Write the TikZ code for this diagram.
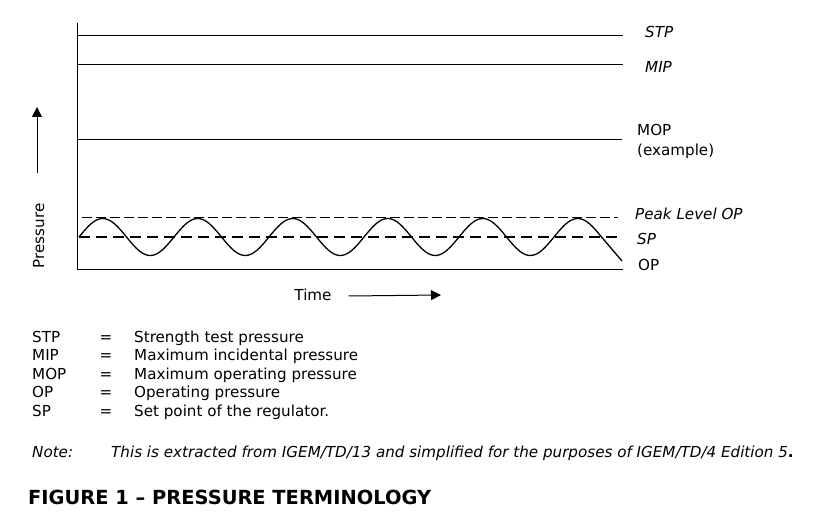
\documentclass[tikz,border=0pt]{standalone}
\usepackage{fontspec}
\setmainfont{DejaVu Sans}
\usetikzlibrary{positioning, arrows.meta}

\newcommand{\lblfont}{\fontsize{15.2}{18}\selectfont}

\begin{document}
\begin{tikzpicture}[x=1bp, y=-1bp, font=\lblfont,
    every node/.style={inner sep=0pt, text height=12bp, text depth=2bp},
    level/.style={line width=1bp},
    lbl/.style={anchor=west},
    ital/.style={anchor=west, font=\lblfont\itshape},
    peakline/.style={line width=0.8bp, dash pattern=on 9.5bp off 4.5bp},
    spline/.style={line width=2.6bp, dash pattern=on 11bp off 6bp},
    axisarrow/.style={line width=1bp, -{Triangle[length=10bp, width=10bp]}}]

    \useasboundingbox (0,0) rectangle (816,517);

    % Axes
    \coordinate (top) at (77,23);
    \coordinate (origin) at (77,270);
    \coordinate (xend) at (623,270);
    \draw[level] (top) -- (origin) -- (xend);

    % Pressure levels
    \coordinate (stpL) at (77,36);  \coordinate (stpR) at (623,36);
    \coordinate (mipL) at (77,65);  \coordinate (mipR) at (623,65);
    \coordinate (mopL) at (77,140); \coordinate (mopR) at (622,140);
    \draw[level] (stpL) -- (stpR);
    \draw[level] (mipL) -- (mipR);
    \draw[level] (mopL) -- (mopR);

    % Peak level and set point (dashed)
    \coordinate (peakL) at (82,217); \coordinate (peakR) at (618,217);
    \coordinate (spL) at (79,237);   \coordinate (spR) at (621,237);
    \draw[peakline] (peakL) -- (peakR);
    \draw[spline] (spL) -- (spR);

    % Operating pressure wave
    \coordinate (waveend) at (622,261);
    \draw[line width=1.3bp, line join=round]
        plot[domain=0:5.5, samples=221, smooth] ({79+95*\x}, {237-18.5*sin(360*\x)})
        -- (waveend);

    % Level labels
    \node[ital] (stp) at (645,33) {STP};
    \node[ital] (mip) at (645,68) {MIP};
    \node[lbl] (mop) at (637,131) {MOP};
    \node[lbl] (mopex) at (637,151) {(example)};
    \node[ital] (peak) at (635,215) {Peak Level OP};
    \node[ital] (sp) at (637,240) {SP};
    \node[lbl] (op) at (638,266) {OP};

    % Axis labels
    \node[rotate=90] (pressure) at (39,236) {Pressure};
    \coordinate (ptail) at (37,173);
    \coordinate (ptip) at (37,107);
    \draw[axisarrow] (ptail) -- (ptip);

    \node (time) at (313,296) {Time};
    \coordinate (ttip) at (441,295);
    \draw[axisarrow] ([xshift=17bp]time.east) -- (ttip);

    % Legend
    \foreach \abbr/\desc [count=\i] in {STP/Strength test pressure,
        MIP/Maximum incidental pressure, MOP/Maximum operating pressure,
        OP/Operating pressure, SP/Set point of the regulator.}{
        \node[lbl] (abbr\i) at (32,{337+18.5*(\i-1)}) {\abbr};
        \node (eq\i) at (106,{337+18.5*(\i-1)}) {=};
        \node[lbl] (desc\i) at (134,{337+18.5*(\i-1)}) {\desc};
    }

    % Note and title
    \node[ital] (note) at (32,452) {Note:};
    \node[ital] (notetext) at (111,452)
        {This is extracted from IGEM/TD/13 and simplified for the purposes of IGEM/TD/4 Edition 5{\upshape\bfseries .}};
    \node[lbl, font=\fontsize{19.5}{23}\selectfont\bfseries, text height=15bp, text depth=0bp] (title) at (28,497)
        {FIGURE 1 – PRESSURE TERMINOLOGY};

\end{tikzpicture}
\end{document}
